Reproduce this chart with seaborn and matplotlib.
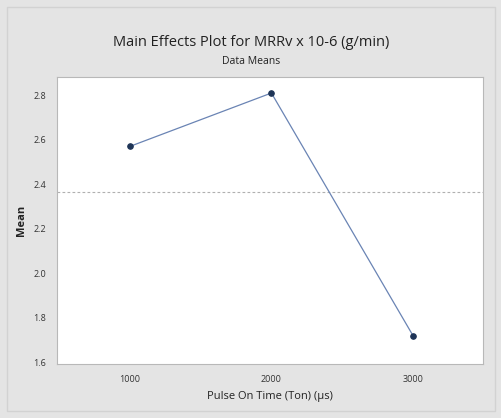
import matplotlib
matplotlib.use("Agg")
import matplotlib.pyplot as plt
import seaborn as sns
import pandas as pd
from matplotlib.patches import Rectangle

levels = [1000, 2000, 3000]
means = [2.57, 2.81, 1.72]
yticks = [1.6, 1.8, 2.0, 2.2, 2.4, 2.6, 2.8]
xticks = [1000, 2000, 3000]

df = pd.DataFrame({"Ton": levels, "Mean": means})
grand_mean = sum(means) / len(means)

sns.set_theme(style="white")
plt.rcParams['font.family'] = ['Open Sans', 'DejaVu Sans']

fig = plt.figure(figsize=(5.02, 4.18), dpi=100)
fig.patch.set_facecolor("#e4e4e4")
fig.patches.append(Rectangle((7/502, 1 - 411/418), 488/502, 404/418,
                             transform=fig.transFigure, fill=False,
                             edgecolor="#d2d2d2", linewidth=1.0))
ax = fig.add_axes([57/502, 1 - 364/418, (483 - 57)/502, (364 - 77)/418])
ax.set_facecolor("white")

ax.axhline(grand_mean, color="#b0b0b0", linestyle=(0, (2.5, 2)), linewidth=0.8, zorder=1)
sns.lineplot(data=df, x="Ton", y="Mean", ax=ax, color="#6a84b4", linewidth=0.9,
             marker="o", markersize=4, markerfacecolor="#1e3457",
             markeredgecolor="#1e3457", zorder=3)

ax.set_xlim(485, 3495)
ax.set_ylim(1.592, 2.882)
ax.set_xticks(xticks)
ax.set_xticklabels([str(v) for v in xticks], fontsize=6.5, color="#333333")
ax.set_yticks(yticks)
ax.set_yticklabels([f"{v:.1f}" for v in yticks], fontsize=6.5, color="#333333")
ax.tick_params(axis="both", length=3, width=0.6, color="#aaaaaa", pad=5)
for s in ax.spines.values():
    s.set_color("#b8b8b8")
    s.set_linewidth(0.8)

ax.set_xlabel("Pulse On Time (Ton) (µs)", fontsize=8, color="#222222", labelpad=5)
ax.set_ylabel("Mean", fontsize=8, color="#222222", fontweight="bold", labelpad=4)

fig.text(0.5, 1 - 43/418, "Main Effects Plot for MRRv x 10-6 (g/min)", ha="center",
         va="center", fontsize=10.5, color="#222222")
fig.text(0.5, 1 - 61/418, "Data Means", ha="center", va="center", fontsize=7.5,
         color="#222222")

fig.savefig("out.png", dpi=100, facecolor=fig.get_facecolor())
